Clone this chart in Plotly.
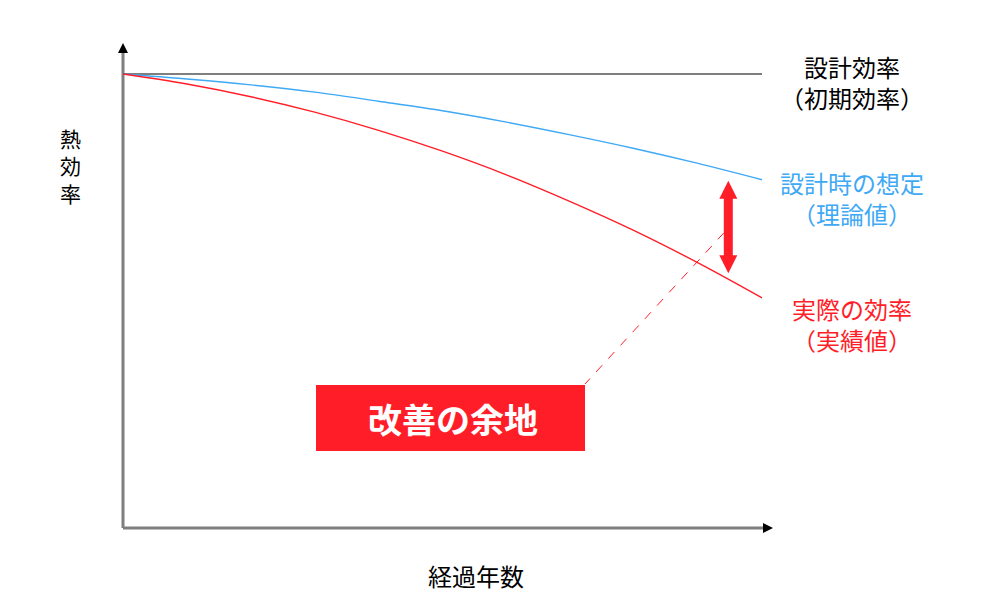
import plotly.graph_objects as go

# ---- data ----
years = [0, 1, 2, 3, 4, 5, 6, 7, 8, 9, 10]
design_eff = [100, 100, 100, 100, 100, 100, 100, 100, 100, 100, 100]
theory_eff = [100, 98.9, 97.6, 96.0, 94.0, 91.9, 89.4, 86.6, 83.6, 80.3, 76.7]
actual_eff = [100, 97.8, 95.0, 91.6, 87.6, 83.0, 77.8, 71.9, 65.5, 58.4, 50.7]

label_design = "設計効率<br>（初期効率）"
label_theory = "設計時の想定<br>（理論値）"
label_actual = "実際の効率<br>（実績値）"
box_text = "改善の余地"
x_title = "経過年数"
y_title = "熱<br>効<br>率"

RED = "#FF1E28"
BLUE = "#3FA9F5"
GRAY = "#7F7F7F"
FONT = "Noto Sans CJK JP"

# page body has an 8px margin, so the figure is 8px smaller and ranges compensate
W, H = 991, 600
PX_X = 63.9   # pixels per year
PX_Y = 4.54   # pixels per efficiency unit


def sx(px):
    return (px - 123) / PX_X


def sy(py):
    return (528 - py) / PX_Y


X_RANGE = [sx(8), sx(999)]
Y_RANGE = [sy(608), sy(8)]

fig = go.Figure()

# axes (drawn as shapes with arrowheads)
fig.add_shape(type="line", x0=0, y0=0, x1=0, y1=sy(49), line=dict(color=GRAY, width=3), layer="below")
fig.add_shape(type="line", x0=0, y0=0, x1=sx(767), y1=0, line=dict(color=GRAY, width=3), layer="below")
fig.add_trace(go.Scatter(x=[0], y=[sy(43)], mode="markers",
                         marker=dict(symbol="arrow-up", size=10, color="black", line=dict(width=0)),
                         hoverinfo="skip", showlegend=False))
fig.add_trace(go.Scatter(x=[sx(773)], y=[0], mode="markers",
                         marker=dict(symbol="arrow-right", size=10, color="black", line=dict(width=0)),
                         hoverinfo="skip", showlegend=False))

# curves
fig.add_trace(go.Scatter(x=years, y=design_eff, mode="lines",
                         line=dict(color="black", width=1.2), showlegend=False))
fig.add_trace(go.Scatter(x=years, y=theory_eff, mode="lines", line_shape="spline",
                         line=dict(color=BLUE, width=1.4), showlegend=False))
fig.add_trace(go.Scatter(x=years, y=actual_eff, mode="lines", line_shape="spline",
                         line=dict(color=RED, width=1.4), showlegend=False))

# dashed leader line
fig.add_shape(type="line", x0=sx(724), y0=sy(232.7), x1=sx(585), y1=sy(384),
              line=dict(color=RED, width=1, dash="dash"))

# red box
fig.add_shape(type="rect", x0=sx(316), y0=sy(451), x1=sx(585), y1=sy(385),
              line=dict(width=0), fillcolor=RED)
fig.add_annotation(x=sx(453), y=sy(418), text="<b>" + box_text + "</b>", showarrow=False,
                   font=dict(family=FONT, size=34, color="white"))

# double arrow
fig.add_shape(type="line", x0=sx(728.3), y0=sy(190), x1=sx(728.3), y1=sy(264),
              line=dict(color=RED, width=9))
fig.add_trace(go.Scatter(x=[sx(728.3)], y=[sy(180.7)], mode="markers",
                         marker=dict(symbol="arrow-up", size=18, color=RED, line=dict(width=0)),
                         hoverinfo="skip", showlegend=False))
fig.add_trace(go.Scatter(x=[sx(728.3)], y=[sy(273.3)], mode="markers",
                         marker=dict(symbol="arrow-down", size=18, color=RED, line=dict(width=0)),
                         hoverinfo="skip", showlegend=False))

# right-side labels
fig.add_annotation(x=sx(851.5), y=sy(81.7), text=label_design, showarrow=False,
                   font=dict(family=FONT, size=24, color="black"))
fig.add_annotation(x=sx(851.5), y=sy(198.3), text=label_theory, showarrow=False,
                   font=dict(family=FONT, size=24, color=BLUE))
fig.add_annotation(x=sx(851.5), y=sy(324), text=label_actual, showarrow=False,
                   font=dict(family=FONT, size=24, color=RED))

# axis titles
fig.add_annotation(x=sx(476), y=sy(575), text=x_title, showarrow=False,
                   font=dict(family=FONT, size=24, color="black"))
fig.add_annotation(x=sx(70.3), y=sy(165.5), text=y_title, showarrow=False,
                   font=dict(family=FONT, size=21, color="black"))

fig.update_layout(
    width=W, height=H,
    margin=dict(l=0, r=0, t=0, b=0),
    paper_bgcolor="white", plot_bgcolor="white",
    xaxis=dict(range=X_RANGE, visible=False, fixedrange=True),
    yaxis=dict(range=Y_RANGE, visible=False, fixedrange=True),
    showlegend=False,
)

fig.write_html("out.html")
